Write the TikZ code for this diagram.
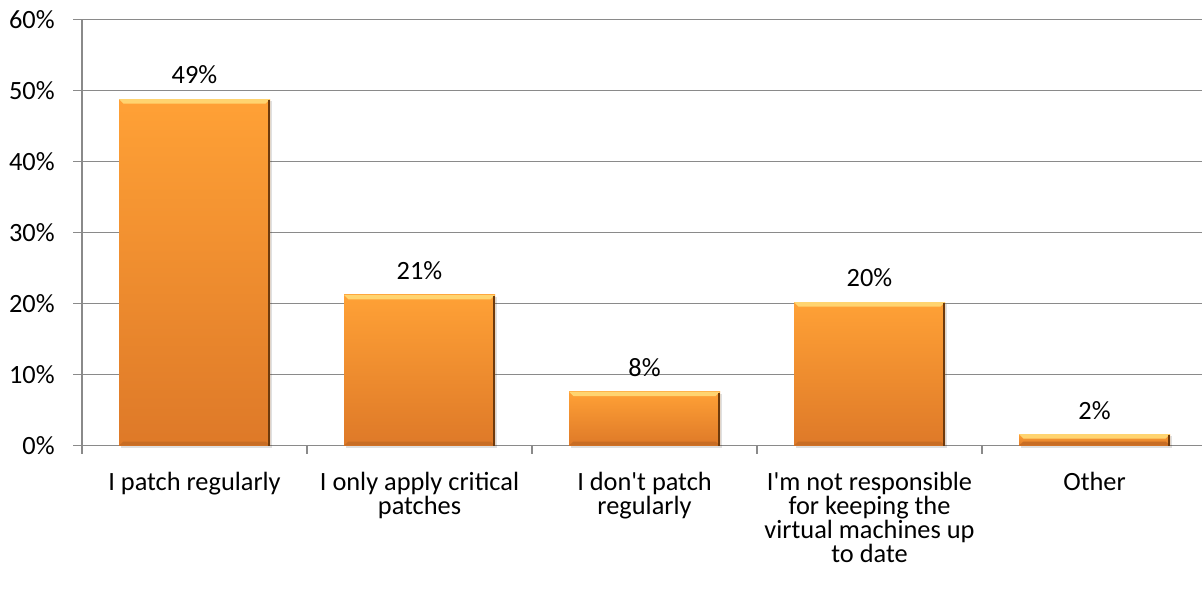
\documentclass[tikz,border=0pt]{standalone}
\usepackage{fontspec}
\setmainfont{Carlito}
\usetikzlibrary{positioning}

\definecolor{gridgray}{RGB}{138,138,138}
\definecolor{bartop}{RGB}{255,161,54}
\definecolor{barbot}{RGB}{222,121,40}
\definecolor{barlight}{RGB}{255,212,112}
\definecolor{bardark}{RGB}{110,58,12}

\tikzset{
	gridline/.style={gridgray,line width=0.85pt},
	barbody/.style={top color=bartop,bottom color=barbot},
	chartfont/.style={font=\fontsize{15}{13.7}\selectfont},
	vallabel/.style={chartfont,inner sep=0pt},
	catlabel/.style={chartfont,align=center,anchor=north,inner sep=0pt}
}

\begin{document}
\begin{tikzpicture}[x=0.02cm,y=-0.02cm]
	\useasboundingbox (0,0) rectangle (1202,589);

	% grid and axis
	\foreach \p in {0,10,...,60}{
		\draw[gridline] (73,445.5-7.1*\p) -- (1202,445.5-7.1*\p);
		\node[vallabel,anchor=east] (ytick\p) at (55,445.5-7.1*\p) {\p\%};
	}
	\draw[gridline] (82,445.5-7.1*60) -- (82,454);
	\foreach \k in {1,...,4}
		\draw[gridline] (82+225*\k,445.5) -- (82+225*\k,454);

	% bars
	\foreach \cx/\p/\txt/\name in {194.5/48.8/49/patch, 419.5/21.2/21/critical, 644.5/7.6/8/nopatch, 869.5/20.2/20/notresp, 1094.5/1.6/2/other}{
		\pgfmathsetmacro{\ytop}{445.5-7.1*\p}
		\fill[black,opacity=0.12] (\cx-73.5,\ytop+2) rectangle (\cx+77.5,447.5);
		\fill[barbody] (\cx-75.5,\ytop) rectangle (\cx+75.5,445.5);
		\fill[barlight] (\cx-75.5,\ytop) -- (\cx+75.5,\ytop) -- (\cx+71,\ytop+4.5) -- (\cx-71,\ytop+4.5) -- cycle;
		\fill[barbot!90!black] (\cx-75.5,445.5) -- (\cx+75.5,445.5) -- (\cx+71,441.5) -- (\cx-71,441.5) -- cycle;
		\fill[bardark] (\cx+73.5,\ytop+1) rectangle (\cx+75.5,445.5);
		\node[vallabel] (val-\name) at (\cx,\ytop-24) {\txt\%};
	}

	% category labels
	\begin{scope}[every node/.style={catlabel}]
		\node (cat-patch) at (194.5,472) {I patch regularly};
		\node (cat-critical) at (419.5,472) {I only apply critical\\patches};
		\node (cat-nopatch) at (644.5,472) {I don\textquotesingle t patch\\regularly};
		\node (cat-notresp) at (869.5,472) {I\textquotesingle m not responsible\\for keeping the\\virtual machines up\\to date};
		\node (cat-other) at (1094.5,472) {Other};
	\end{scope}
\end{tikzpicture}
\end{document}
